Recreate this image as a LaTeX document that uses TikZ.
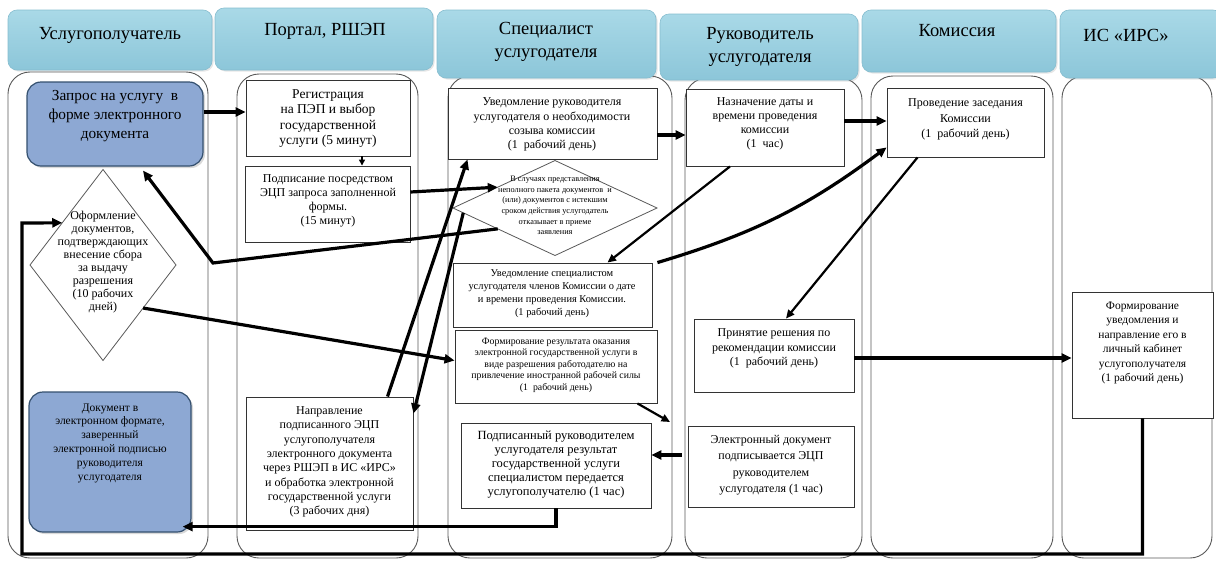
\documentclass[tikz,border=0pt]{standalone}
\usepackage{fontspec}
\setmainfont{Liberation Serif}
\usetikzlibrary{arrows.meta,shapes.geometric,fit,shadows}
\definecolor{hdtop}{HTML}{A9D9E7}
\definecolor{hdmid}{HTML}{DCEFF5}
\definecolor{hdbot}{HTML}{8CC6D9}
\definecolor{hdline}{HTML}{86BDCF}
\definecolor{bluebox}{HTML}{8DA8D3}
\definecolor{blueline}{HTML}{34506F}
\newcommand\fsz[2]{\fontsize{#1}{#2}\selectfont}
\begin{document}
\begin{tikzpicture}[x=1pt,y=-1pt,
  lane/.style={draw=black!65,line width=0.9pt,rounded corners=22pt,inner sep=0pt},
  hdr/.style={rounded corners=9pt,top color=hdtop,middle color=hdmid,bottom color=hdbot,draw=hdline,line width=0.6pt,inner sep=0pt,drop shadow={opacity=0.2,shadow xshift=1.5pt,shadow yshift=-1.5pt}},
  box/.style={draw=black!80,line width=0.9pt,fill=white,inner sep=0pt},
  bbox/.style={draw=blueline,line width=1.2pt,fill=bluebox,rounded corners=14pt,inner sep=0pt,drop shadow={opacity=0.3,shadow xshift=2pt,shadow yshift=-2pt}},
  dia/.style={diamond,draw=black!65,line width=0.8pt,fill=white,inner sep=0pt,outer sep=0pt},
  txt/.style={align=center,inner sep=0pt,text=black},
  htxt/.style={align=center,inner sep=0pt,text=black,font=\fsz{18.5}{23}},
  arr/.style={line width=3.2pt,-{Triangle[length=10pt,width=9pt]}},
  arrm/.style={line width=2.2pt,-{Triangle[length=8.5pt,width=7.5pt]}},
]
\useasboundingbox (0,0) rectangle (1216,563);
% lanes
\node[lane,fit={(8,72)(208,558)}] (L1) {};
\node[lane,fit={(237,74)(418,558)}] (L2) {};
\node[lane,fit={(448,76)(672,558)}] (L3) {};
\node[lane,fit={(685,78)(862,558)}] (L4) {};
\node[lane,fit={(871,76)(1053,558)}] (L5) {};
\node[lane,fit={(1062,76)(1212,558)}] (L6) {};
% headers
\node[hdr,fit={(8,10)(212,70)}] (H1) {};
\node[hdr,fit={(215,8)(433,70)}] (H2) {};
\node[hdr,fit={(437,10)(656,78)}] (H3) {};
\node[hdr,fit={(660,14)(858,80)}] (H4) {};
\node[hdr,fit={(862,10)(1056,72)}] (H5) {};
\node[hdr,fit={(1060,10)(1222,78)}] (H6) {};
\node[htxt] at (110,35) {Услугополучатель};
\node[htxt] at (325,31) {Портал, РШЭП};
\node[htxt] at (546,42) {Специалист\\услугодателя};
\node[htxt] at (760,47) {Руководитель\\услугодателя};
\node[htxt] at (957,31) {Комиссия};
\node[htxt] at (1126,35) {ИС «ИРС»};
% boxes
\node[bbox,fit={(27,82)(203,166)}] (zap) {};
\node[txt,font=\fsz{15.3}{19}] at (115,116) {Запрос на услугу\ \ в\\форме электронного\\документа};
\node[dia,minimum width=146pt,minimum height=191pt] (d1) at (103,265) {};
\node[txt,font=\fsz{12}{12.9}] at (103,262) {Оформление\\документов,\\подтверждающих\\внесение сбора\\за выдачу\\разрешения\\(10 рабочих\\дней)};
\node[bbox,fit={(29,392)(191,532)}] (dok) {};
\node[txt,font=\fsz{11.5}{13.8}] at (110,443) {Документ в\\электронном формате,\\заверенный\\электронной подписью\\руководителя\\услугодателя};
\node[box,fit={(246,80)(410,156)}] (reg) {};
\node[txt,font=\fsz{13.5}{15.5}] at (328,118.5) {Регистрация\\на ПЭП и выбор\\государственной\\услуги (5 минут)};
\node[box,fit={(245,166)(410,242)}] (sig) {};
\node[txt,font=\fsz{12}{13.8}] at (328,201) {Подписание посредством\\ЭЦП запроса заполненной\\формы.\\(15 минут)};
\node[box,fit={(246,397)(413,530)}] (nap) {};
\node[txt,font=\fsz{12}{14.3}] at (329.5,462) {Направление\\подписанного ЭЦП\\услугополучателя\\электронного документа\\через РШЭП в ИС «ИРС»\\и обработка электронной\\государственной услуги\\(3 рабочих дня)};
\node[box,fit={(448,88)(657,159)}] (urk) {};
\node[txt,font=\fsz{12}{14.3}] at (552,124.5) {Уведомление руководителя\\услугодателя о необходимости\\созыва комиссии\\(1\ \ рабочий день)};
\node[dia,minimum width=204pt,minimum height=95pt] (d2) at (555,208) {};
\node[txt,font=\fsz{8.3}{10.6}] at (555,205.5) {В случаях представления\\неполного пакета документов\ \ и\\(или) документов с истекшим\\сроком действия услугодатель\\отказывает в приеме\\заявления};
\node[box,fit={(453,263)(652,327)}] (usp) {};
\node[txt,font=\fsz{10.4}{12.8}] at (552,293.5) {Уведомление специалистом\\услугодателя членов Комиссии о дате\\и времени проведения Комиссии.\\(1 рабочий день)};
\node[box,fit={(455,330)(657,403)}] (form) {};
\node[txt,font=\fsz{9.8}{11.5}] at (556,365) {Формирование результата оказания\\электронной государственной услуги в\\виде разрешения работодателю на\\привлечение иностранной рабочей силы\\(1\ \ рабочий день)};
\node[box,fit={(461,423)(651,508)}] (pod) {};
\node[txt,font=\fsz{12.5}{14}] at (556,465) {Подписанный руководителем\\услугодателя результат\\государственной услуги\\специалистом передается\\услугополучателю (1 час)};
\node[box,fit={(686,89)(844,166)}] (naz) {};
\node[txt,font=\fsz{12}{14}] at (765,124) {Назначение даты и\\времени проведения\\комиссии\\(1\ \ час)};
\node[box,fit={(694,319)(854,392)}] (prin) {};
\node[txt,font=\fsz{12}{14.5}] at (774,348.5) {Принятие решения по\\рекомендации комиссии\\(1\ \ рабочий день)};
\node[box,fit={(688,426)(854,507)}] (elek) {};
\node[txt,font=\fsz{12}{16.5}] at (771,465) {Электронный документ\\подписывается ЭЦП\\руководителем\\услугодателя (1 час)};
\node[box,fit={(887,88)(1044,157)}] (prov) {};
\node[txt,font=\fsz{12}{15.5}] at (965.5,119.5) {Проведение заседания\\Комиссии\\(1\ \ рабочий день)};
\node[box,fit={(1072,292)(1213,418)}] (ism) {};
\node[txt,font=\fsz{11.5}{14.4}] at (1142.5,343) {Формирование\\уведомления и\\направление его в\\личный кабинет\\услугополучателя\\(1 рабочий день)};
% connectors
\coordinate (bendA) at (213,263);
\coordinate (lpA) at (22,554);
\coordinate (lpB) at (22,223);
\coordinate (formEnd) at (670,422);
\draw[arr] ([yshift=12pt]zap.east) -- ([yshift=12pt]zap.east -| reg.west);
\draw[line width=1.4pt,-{Triangle[length=6pt,width=6pt]}] ([xshift=34pt]reg.south) -- ([xshift=34pt]reg.south |- sig.north);
\draw[arr] ([yshift=12pt]sig.east) -- (d2.160);
\draw[arr] (d2.200) -- (bendA) -- ([xshift=28pt,yshift=-4pt]zap.south);
\draw[arr] (d2.183) -- ([yshift=-17pt]nap.north east);
\draw[arr] ([xshift=58pt]nap.north) -- ([xshift=-85pt]urk.south);
\draw[arr] (d1.-47) -- ([yshift=6pt]form.west);
\draw[arr] (ism.south) |- (lpA) -- (lpB) -- (d1.134);
\draw[arr] ([yshift=-11.5pt]urk.east) -- ([yshift=-11.5pt]urk.east -| naz.west);
\draw[arr] ([yshift=6.5pt]naz.east) -- ([yshift=6.5pt]naz.east -| prov.west);
\draw[arrm] ([xshift=-35pt]naz.south) -- ([xshift=55pt]usp.north);
\draw[arr] ([xshift=5pt]usp.north east) to[bend right=10] ([yshift=10pt]prov.south west);
\draw[arrm] ([xshift=-48pt]prov.south) -- ([xshift=12pt]prin.north);
\draw[arr] ([yshift=-2.5pt]prin.east) -- ([yshift=-2.5pt]prin.east -| ism.west);
\draw[arrm] ([xshift=-20pt]form.south east) -- (formEnd);
\draw[arr] ([xshift=-6pt,yshift=11.5pt]elek.west) -- ([yshift=11.5pt]elek.west -| pod.east);
\draw[arr] (pod.south) |- ([xshift=-9pt,yshift=6pt]dok.south east);
\end{tikzpicture}
\end{document}
